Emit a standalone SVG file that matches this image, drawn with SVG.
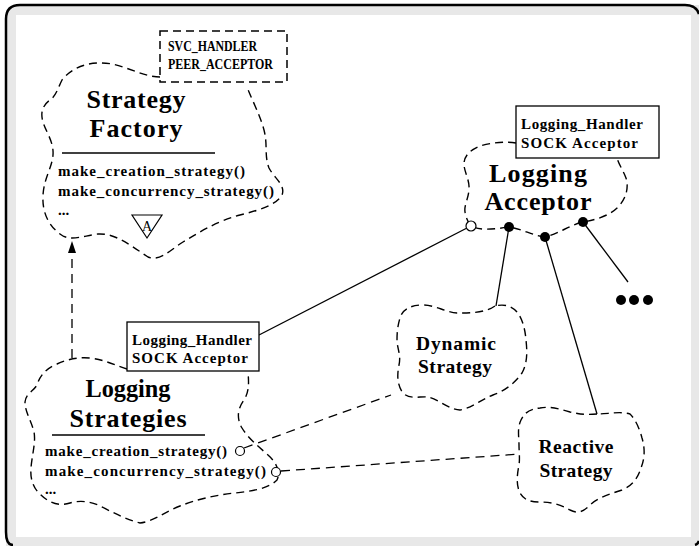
<svg xmlns="http://www.w3.org/2000/svg" width="699" height="546" viewBox="0 0 699 546">
  <style>
    .cloud { fill: none; stroke: #000; stroke-width: 1.4; stroke-dasharray: 8 5; }
    .dbox { fill: #fff; stroke: #000; stroke-width: 1.5; stroke-dasharray: 8 5; }
    .box { fill: #fff; stroke: #000; stroke-width: 1.3; }
    .solid { fill: none; stroke: #000; stroke-width: 1.3; }
    .dash { fill: none; stroke: #000; stroke-width: 1.3; stroke-dasharray: 9 6; }
    .t { font-family: "Liberation Serif", "Times New Roman", serif; font-weight: bold; fill: #000; }
    .title { font-size: 26px; text-anchor: middle; }
    .sub { font-size: 19.5px; text-anchor: middle; }
    .meth { font-size: 15px; }
    .lbl { font-size: 15px; }
    .tiny { font-size: 15px; }
    .dot { fill: #000; }
    .ring { fill: #fff; stroke: #000; stroke-width: 1.2; }
  </style>

  <!-- frame -->
  <g id="frame">
    <rect x="6" y="5" width="710" height="560" rx="14" fill="#e8e8e8"/>
    <rect x="16" y="15" width="675" height="522" fill="#fff"/>
    <path d="M13,545 Q6,545 6,532 L6,19 Q6,5 20,5 L685,5 Q696,5 699,14" fill="none" stroke="#000" stroke-width="2.5"/>
    <path d="M695,545 Q698,544 699,541" fill="none" stroke="#000" stroke-width="2.5"/>
  </g>

  <!-- connectors -->
  <g id="connectors">
    <!-- inheritance arrow -->
    <path class="dash" d="M72,358 L72,252"/>
    <polygon points="72,241 68,253 76,253" fill="#000"/>
    <!-- acceptor to strategies -->
    <path class="solid" d="M467,228 L259,335"/>
    <path class="solid" d="M509,227 L496,306"/>
    <path class="solid" d="M545,237 L597,414"/>
    <path class="solid" d="M583,222 L628,282"/>
    <!-- creation / concurrency strategy links -->
    <path class="dash" d="M244,448 L391,395"/>
    <path class="dash" d="M281,471 L520,454"/>
    <!-- more strategies -->
    <circle class="dot" cx="621" cy="300" r="5"/>
    <circle class="dot" cx="634" cy="300" r="5"/>
    <circle class="dot" cx="648" cy="300" r="5"/>
  </g>

  <!-- Strategy Factory -->
  <g id="strategy-factory">
    <path class="cloud" d="M160,77 C145,77 130,68 112,64 C95,61 75,64 62,80 C58,88 56,96 50,100 C43,105 40,112 43,122 C46,132 54,142 53,155 C52,168 44,178 43,195 C42,212 48,225 60,234 C70,242 82,236 98,234 C115,233 130,245 148,257 C160,262 170,250 183,242 C200,232 215,222 240,215 C260,210 276,205 282,195 C286,185 274,178 269,168 C264,155 268,145 264,130 C260,115 252,100 247,87"/>
    <rect class="dbox" x="160" y="31" width="127" height="51"/>
    <text class="t tiny" x="168" y="51" textLength="89" lengthAdjust="spacingAndGlyphs">SVC_HANDLER</text>
    <text class="t tiny" x="168" y="69" textLength="105" lengthAdjust="spacingAndGlyphs">PEER_ACCEPTOR</text>
    <text class="t title" x="136" y="108" textLength="99" lengthAdjust="spacing">Strategy</text>
    <text class="t title" x="136" y="137" textLength="93" lengthAdjust="spacing">Factory</text>
    <line x1="62" y1="153" x2="215" y2="153" stroke="#000" stroke-width="1.5"/>
    <text class="t meth" x="58" y="176" textLength="187" lengthAdjust="spacing">make_creation_strategy()</text>
    <text class="t meth" x="58" y="196" textLength="216" lengthAdjust="spacing">make_concurrency_strategy()</text>
    <text class="t meth" x="58" y="215">...</text>
    <polygon points="132,215 162,215 147,238" fill="none" stroke="#000" stroke-width="1.2"/>
    <text x="147" y="231" font-family="Liberation Serif, serif" font-size="14" text-anchor="middle">A</text>
  </g>

  <!-- Logging Acceptor -->
  <g id="logging-acceptor">
    <path class="cloud" d="M516,143 C505,141 490,143 480,146 C470,150 464,156 464,164 C464,172 470,180 469,190 C468,200 464,205 465,212 C466,218 468,222 471,226 C480,231 495,229 509,227 C522,229 534,236 545,237 C558,234 570,225 583,222 C595,220 610,216 619,206 C626,198 629,188 626,178 C623,170 619,165 617,158"/>
    <rect class="box" x="516" y="106" width="143" height="52"/>
    <text class="t lbl" x="521" y="129" textLength="122" lengthAdjust="spacing">Logging_Handler</text>
    <text class="t lbl" x="521" y="148" textLength="117" lengthAdjust="spacing">SOCK  Acceptor</text>
    <text class="t title" x="538" y="182" textLength="98" lengthAdjust="spacing">Logging</text>
    <text class="t title" x="538" y="210" textLength="107" lengthAdjust="spacing">Acceptor</text>
    <circle class="ring" cx="471" cy="226" r="5"/>
    <circle class="dot" cx="509" cy="227" r="5"/>
    <circle class="dot" cx="545" cy="237" r="5"/>
    <circle class="dot" cx="583" cy="222" r="5"/>
  </g>

  <!-- Dynamic Strategy -->
  <g id="dynamic-strategy">
    <path class="cloud" d="M495,306 C485,313 470,313 457,313 C445,312 435,305 423,305 C410,305 402,310 400,318 C397,328 397,335 397,342 C398,350 401,356 399,365 C397,375 397,385 403,393 C410,400 420,396 428,397 C438,399 450,410 460,410 C472,408 480,400 493,395 C505,391 516,382 522,373 C528,362 527,350 526,340 C525,328 522,318 517,312 C511,305 503,304 495,306 Z"/>
    <text class="t sub" x="456" y="350" textLength="80" lengthAdjust="spacing">Dynamic</text>
    <text class="t sub" x="455" y="373" textLength="74" lengthAdjust="spacing">Strategy</text>
  </g>

  <!-- Reactive Strategy -->
  <g id="reactive-strategy">
    <path class="cloud" d="M597,414 C585,415 580,414 570,412 C560,409 550,406 540,408 C530,409 525,412 521,420 C517,428 519,437 519,445 C519,452 520,458 519,465 C517,475 516,485 520,493 C524,500 530,502 540,502 C550,502 560,504 570,510 C578,514 583,512 590,505 C597,498 610,494 622,490 C632,486 638,478 641,468 C645,458 645,448 642,438 C640,430 636,420 630,414 C620,411 608,414 597,414 Z"/>
    <text class="t sub" x="576" y="453" textLength="75" lengthAdjust="spacing">Reactive</text>
    <text class="t sub" x="576" y="477" textLength="73" lengthAdjust="spacing">Strategy</text>
  </g>

  <!-- Logging Strategies -->
  <g id="logging-strategies">
    <path class="cloud" d="M127,369 C115,365 105,360 90,358 C78,357 68,359 57,364 C47,368 40,375 37,385 C33,392 26,393 25,402 C25,412 31,420 34,432 C36,442 32,455 31,468 C30,478 33,488 40,494 C48,502 58,507 70,503 C80,500 92,501 104,508 C116,514 128,520 140,523 C152,522 165,512 180,506 C195,500 215,495 235,493 C252,491 268,489 277,480 C281,472 276,462 268,455 C258,446 248,438 242,428 C236,418 238,408 244,400 C249,392 249,384 248,372"/>
    <rect class="box" x="127" y="322" width="132" height="49"/>
    <text class="t lbl" x="132" y="345" textLength="120" lengthAdjust="spacing">Logging_Handler</text>
    <text class="t lbl" x="132" y="363" textLength="116" lengthAdjust="spacing">SOCK  Acceptor</text>
    <text class="t title" x="128" y="397" textLength="85" lengthAdjust="spacingAndGlyphs">Logging</text>
    <text class="t title" x="128" y="427" textLength="117" lengthAdjust="spacing">Strategies</text>
    <line x1="52" y1="435" x2="205" y2="435" stroke="#000" stroke-width="1.5"/>
    <text class="t meth" x="45" y="456" textLength="182" lengthAdjust="spacing">make_creation_strategy()</text>
    <text class="t meth" x="45" y="476" textLength="221" lengthAdjust="spacing">make_concurrency_strategy()</text>
    <text class="t meth" x="45" y="494">...</text>
    <circle class="ring" cx="240" cy="451" r="4.5"/>
    <circle class="ring" cx="276" cy="472" r="4.5"/>
  </g>
</svg>
